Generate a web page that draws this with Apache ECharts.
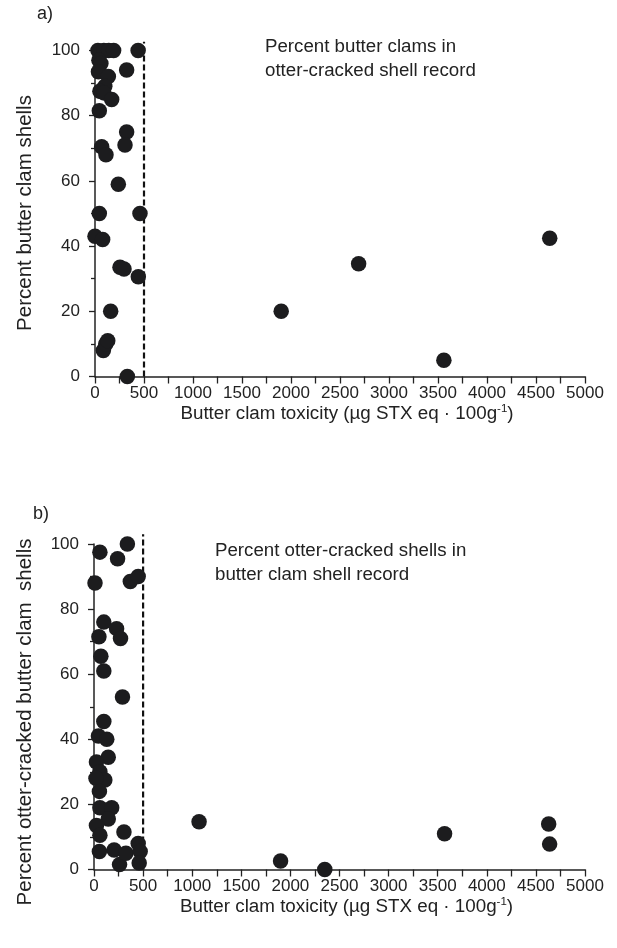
<!DOCTYPE html>
<html>
<head>
<meta charset="utf-8">
<script src="https://cdn.jsdelivr.net/npm/echarts@6/dist/echarts.min.js"></script>
<style>html,body{margin:0;padding:0;background:#fff;}#c{width:617px;height:948px;}</style>
</head>
<body>
<div id="c"></div>
<script>
// Panel a: percent butter clams in otter-cracked shell record
const toxA = [30, 90, 140, 190, 440, 40, 60, 35, 136, 323, 100, 50, 90, 170, 44, 323, 306, 68, 112, 238, 44, 459, 0, 78, 255, 296, 442, 160, 85, 110, 130, 330, 1900, 2690, 3560, 4640];
const pctA = [100, 100, 100, 100, 100, 97, 96, 93.5, 92, 94, 89, 87.5, 87, 85, 81.5, 75, 71, 70.5, 68, 59, 50, 50, 43, 42, 33.5, 33, 30.6, 20, 8, 10, 11, 0, 20, 34.6, 5, 42.4];
// Panel b: percent otter-cracked shells in butter clam shell record
const toxB = [60, 340, 240, 10, 370, 450, 100, 50, 230, 270, 70, 100, 290, 100, 45, 130, 145, 25, 60, 110, 20, 55, 60, 180, 145, 25, 60, 55, 205, 260, 325, 305, 450, 470, 460, 1070, 1900, 2350, 3570, 4630, 4640];
const pctB = [97.5, 100, 95.5, 88, 88.5, 90, 76, 71.5, 74, 71, 65.5, 61, 53, 45.5, 41, 40, 34.5, 33, 30, 27.5, 28, 24, 19, 19, 15.5, 13.5, 10.5, 5.5, 6, 1.5, 5, 11.5, 8, 5.5, 2, 14.7, 2.6, 0, 11, 14, 7.8];
// Threshold line (µg STX eq per 100 g)
const thresholdX = [500, 500];
const thresholdYA = [0, 102.7];
const thresholdYB = [0, 103];
const xTicks = [0, 500, 1000, 1500, 2000, 2500, 3000, 3500, 4000, 4500, 5000];
const yTicks = [0, 20, 40, 60, 80, 100];

const FONT = 'Liberation Sans';
const TXT = '#222';
const DOT = '#1c1c1e';

function xAxis(gi) {
  return {
    type: 'value', gridIndex: gi, min: xTicks[0], max: xTicks[xTicks.length - 1], interval: 500,
    axisLine: {show: true, lineStyle: {color: TXT, width: 1.5}},
    axisTick: {show: true, length: 7, lineStyle: {color: TXT, width: 1.3}},
    minorTick: {show: true, splitNumber: 2, length: 7, lineStyle: {color: TXT, width: 1.3}},
    splitLine: {show: false},
    axisLabel: {color: TXT, fontFamily: FONT, fontSize: 17, margin: 8, formatter: v => String(v)},
    name: '{a|Butter clam toxicity (µg STX eq · 100g}{s|-1}{a|)}',
    nameLocation: 'middle', nameGap: 23,
    nameTextStyle: {
      color: TXT, fontFamily: FONT, padding: [0, 0, 0, 14],
      rich: {
        a: {fontFamily: FONT, fontSize: 18.8, color: TXT, lineHeight: 22},
        s: {fontFamily: FONT, fontSize: 11.5, color: TXT, verticalAlign: 'top', lineHeight: 14}
      }
    }
  };
}
function yAxis(gi) {
  return {
    type: 'value', gridIndex: gi, min: yTicks[0], max: yTicks[yTicks.length - 1], interval: 20,
    axisLine: {show: true, lineStyle: {color: TXT, width: 1.5}},
    axisTick: {show: true, length: 6, lineStyle: {color: TXT, width: 1.3}},
    minorTick: {show: true, splitNumber: 2, length: 4, lineStyle: {color: TXT, width: 1.3}},
    splitLine: {show: false},
    axisLabel: {color: TXT, fontFamily: FONT, fontSize: 17, margin: 15, formatter: v => String(v)}
  };
}
function pts(xs, ys) { return xs.map((x, i) => [x, ys[i]]); }

const chart = echarts.init(document.getElementById('c'), null, {renderer: 'canvas'});
chart.setOption({
  animation: false,
  backgroundColor: '#fff',
  grid: [
    {left: 95, top: 50.5, width: 490, height: 326},
    {left: 94, top: 544, width: 491, height: 325.5}
  ],
  xAxis: [xAxis(0), xAxis(1)],
  yAxis: [yAxis(0), yAxis(1)],
  series: [
    {type: 'line', xAxisIndex: 0, yAxisIndex: 0, data: pts(thresholdX, thresholdYA), symbol: 'none', clip: false,
     lineStyle: {color: '#111', width: 2.2, type: [6, 3]}, z: 1},
    {type: 'line', xAxisIndex: 1, yAxisIndex: 1, data: pts(thresholdX, thresholdYB), symbol: 'none', clip: false,
     lineStyle: {color: '#111', width: 2.2, type: [6, 3]}, z: 1},
    {type: 'scatter', xAxisIndex: 0, yAxisIndex: 0, data: pts(toxA, pctA), symbol: 'circle', symbolSize: 15.5, clip: false,
     itemStyle: {color: DOT, opacity: 1}, z: 3},
    {type: 'scatter', xAxisIndex: 1, yAxisIndex: 1, data: pts(toxB, pctB), symbol: 'circle', symbolSize: 15.5, clip: false,
     itemStyle: {color: DOT, opacity: 1}, z: 3}
  ],
  graphic: [
    {type: 'text', left: 37, top: 5, style: {text: 'a)', fontFamily: FONT, fontSize: 18, fill: TXT}},
    {type: 'text', left: 33, top: 505, style: {text: 'b)', fontFamily: FONT, fontSize: 18, fill: TXT}},
    {type: 'text', left: 265, top: 35, style: {text: 'Percent butter clams in\notter-cracked shell record', fontFamily: FONT, fontSize: 18.7, lineHeight: 24, fill: TXT}},
    {type: 'text', left: 215, top: 539, style: {text: 'Percent otter-cracked shells in\nbutter clam shell record', fontFamily: FONT, fontSize: 18.7, lineHeight: 24, fill: TXT}},
    {type: 'text', x: 25, y: 213, rotation: Math.PI / 2,
     style: {text: 'Percent butter clam shells', fontFamily: FONT, fontSize: 20.5, fill: TXT, align: 'center', verticalAlign: 'middle'}},
    {type: 'text', x: 25, y: 722, rotation: Math.PI / 2,
     style: {text: 'Percent otter-cracked butter clam  shells', fontFamily: FONT, fontSize: 20.5, fill: TXT, align: 'center', verticalAlign: 'middle'}}
  ]
});
</script>
</body>
</html>
